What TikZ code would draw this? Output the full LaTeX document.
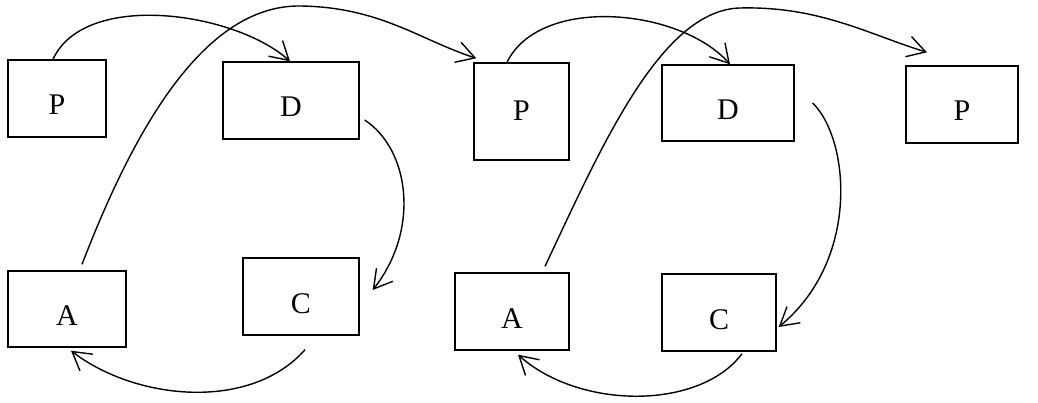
\documentclass[tikz,border=0pt]{standalone}
\usepackage{fontspec}
\setmainfont{Liberation Serif}
\usetikzlibrary{arrows.meta}
\begin{document}
\begin{tikzpicture}[x=1pt,y=-1pt,
  box/.style={draw, line width=1.4pt, inner sep=0pt,
    font=\fontsize{30}{32}\selectfont, text height=33pt, text depth=0pt},
  nooffset/.style={text height=18pt},
  conn/.style={line width=1.4pt,
    -{Straight Barb[length=18pt,width=21pt,line width=1.4pt]}}]
\useasboundingbox (0,0) rectangle (1038,403);
% top row
\node[box, minimum width=98pt,  minimum height=77pt] (P1) at (57,98.5)  {P};
\node[box, minimum width=136pt, minimum height=77pt] (D1) at (291,100.5) {D};
\node[box, nooffset, minimum width=95pt, minimum height=97pt] (P2) at (521.5,111.5) {P};
\node[box, minimum width=132pt, minimum height=76pt] (D2) at (728,103) {D};
\node[box, minimum width=112pt, minimum height=77pt] (P3) at (962,104.5) {P};
% bottom row
\node[box, minimum width=118pt, minimum height=76pt] (A1) at (67,309) {A};
\node[box, minimum width=116pt, minimum height=77pt] (C1) at (301,296.5) {C};
\node[box, minimum width=114pt, minimum height=77pt] (A2) at (512,311.5) {A};
\node[box, minimum width=114pt, minimum height=77pt] (C2) at (719,312.5) {C};
% first cycle
\draw[conn] ([xshift=-4pt]P1.north) .. controls (85,-10) and (235,12) .. ([xshift=-1pt]D1.north);
\draw[conn] ([xshift=5pt,yshift=-19.5pt]D1.east) .. controls (410,150) and (420,230) .. ([xshift=13pt,yshift=6.5pt]C1.east);
\draw[conn] ([xshift=4pt,yshift=-14pt]C1.south) .. controls (250,412) and (135,400) .. ([xshift=4pt,yshift=-3pt]A1.south);
\draw[conn] ([xshift=15pt,yshift=6pt]A1.north) .. controls (130,140) and (200,5) .. (300,6) .. controls (380,7) and (420,40) .. ([xshift=3pt,yshift=4pt]P2.north west);
% second cycle
\draw[conn] ([xshift=-14.5pt]P2.north) .. controls (540,-5) and (680,8) .. ([xshift=2pt]D2.north);
\draw[conn] ([xshift=18pt]D2.east) .. controls (850,140) and (860,260) .. ([xshift=2pt,yshift=-14.5pt]C2.east);
\draw[conn] ([xshift=23pt,yshift=-2pt]C2.south) .. controls (700,410) and (580,410) .. ([xshift=6pt,yshift=-4pt]A2.south);
\draw[conn] ([xshift=33pt,yshift=6pt]A2.north) .. controls (600,150) and (660,10) .. (740,8) .. controls (820,6) and (870,35) .. ([xshift=-35pt,yshift=13pt]P3.north);
\end{tikzpicture}
\end{document}
